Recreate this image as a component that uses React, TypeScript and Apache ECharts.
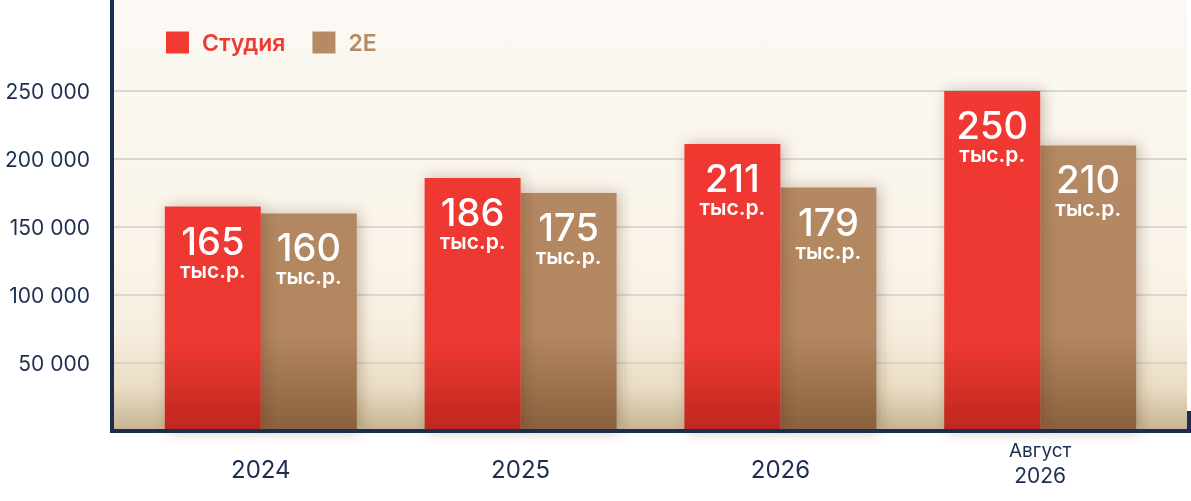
import React, { useEffect, useRef } from "react";
import * as echarts from "echarts";

const categories = ["2024", "2025", "2026", "Август 2026"];
const studioValues = [165000, 186000, 211000, 250000];
const twoEValues = [160000, 175000, 179000, 210000];
const seriesNames = ["Студия", "2Е"];
const yTicks = { min: 0, max: 300000, interval: 50000 };

const NAVY = "#1c2d50";
const FONT = "Inter, Roboto, sans-serif";

export default function App() {
  const ref = useRef<HTMLDivElement>(null);
  useEffect(() => {
    if (!ref.current) return;
    const chart = echarts.init(ref.current, undefined, { renderer: "svg" });
    const plotTop = 23;
    const plotHeight = 408;
    const redGrad = {
      type: "linear", x: 0, y: 0, x2: 0, y2: 431, global: true,
      colorStops: [
        { offset: 0, color: "#f23a33" },
        { offset: 0.8, color: "#ec3831" },
        { offset: 1, color: "#be271f" },
      ],
    };
    const brownGrad = {
      type: "linear", x: 0, y: 0, x2: 0, y2: 431, global: true,
      colorStops: [
        { offset: 0, color: "#b68a63" },
        { offset: 0.78, color: "#b28661" },
        { offset: 1, color: "#8a603c" },
      ],
    };
    const barLabel = {
      show: true,
      position: "insideTop",
      distance: 15,
      formatter: (p: any) => `{a|${Math.round(p.value / 1000)}}\n{b|тыс.р.}`,
      rich: {
        a: { fontFamily: FONT, fontSize: 38, fontWeight: 500, lineHeight: 38, color: "#fff", align: "center" },
        b: { fontFamily: FONT, fontSize: 21, fontWeight: 600, lineHeight: 21, color: "#fff", align: "center" },
      },
    };
    const option: any = {
      animation: false,
      textStyle: { fontFamily: FONT },
      graphic: [
        {
          type: "rect",
          z: -100,
          shape: { x: 114, y: 0, width: 1073, height: 431 },
          style: {
            fill: {
              type: "linear", x: 0, y: 0, x2: 0, y2: 1,
              colorStops: [
                { offset: 0, color: "#fbf9f4" },
                { offset: 0.6, color: "#faf4e9" },
                { offset: 0.78, color: "#f6eddd" },
                { offset: 0.9, color: "#e9dcc3" },
                { offset: 1, color: "#c6b390" },
              ],
            },
          },
        },
        { type: "line", z: 100, shape: { x1: 112, y1: 0, x2: 112, y2: 433 }, style: { stroke: NAVY, lineWidth: 4 } },
        { type: "line", z: 100, shape: { x1: 110, y1: 431, x2: 1191, y2: 431 }, style: { stroke: NAVY, lineWidth: 4 } },
        { type: "line", z: 100, shape: { x1: 1189, y1: 411, x2: 1189, y2: 433 }, style: { stroke: NAVY, lineWidth: 4 } },
      ],
      legend: {
        left: 161,
        top: 26,
        icon: "rect",
        itemWidth: 23,
        itemHeight: 22,
        itemGap: 27,
        textStyle: { fontFamily: FONT, fontSize: 23, fontWeight: 600, padding: [0, 0, 0, 8] },
        data: [
          { name: seriesNames[0], itemStyle: { color: "#f23a33", shadowBlur: 0 }, textStyle: { color: "#ee3a34" } },
          { name: seriesNames[1], itemStyle: { color: "#b68a63", shadowBlur: 0 }, textStyle: { color: "#b68a63" } },
        ],
      },
      grid: [
        { left: 130.9, right: 20.9, top: plotTop, height: plotHeight },
        { left: 114, right: 4, top: plotTop, height: plotHeight },
      ],
      xAxis: [
        {
          type: "category",
          gridIndex: 0,
          data: categories,
          axisLine: { show: false },
          axisTick: { show: false },
          axisLabel: {
            margin: 9,
            interval: 0,
            color: NAVY,
            formatter: (v: string) => {
              if (v.indexOf(" ") >= 0) {
                const [m, y] = v.split(" ");
                return `{m|${m}}\n{ly|${y}}`;
              }
              return `{y|${v}}`;
            },
            rich: {
              y: { fontFamily: FONT, fontSize: 24, lineHeight: 58, color: NAVY },
              m: { fontFamily: FONT, fontSize: 19, lineHeight: 20, color: NAVY },
              ly: { fontFamily: FONT, fontSize: 21, lineHeight: 30, color: NAVY },
            },
          },
        },
        { type: "value", gridIndex: 1, show: false, min: 0, max: 1 },
      ],
      yAxis: [
        { type: "value", gridIndex: 0, show: false, ...yTicks },
        {
          type: "value",
          gridIndex: 1,
          ...yTicks,
          axisLine: { show: false },
          axisTick: { show: false },
          axisLabel: {
            margin: 24,
            showMinLabel: false,
            showMaxLabel: false,
            color: NAVY,
            fontFamily: FONT,
            fontSize: 21,
            formatter: (v: number) => String(v).replace(/\B(?=(\d{3})+(?!\d))/g, " "),
          },
          splitLine: {
            show: true,
            showMinLine: false,
            showMaxLine: false,
            lineStyle: { color: "#d1cec8", width: 1.5 },
          },
        },
      ],
      series: [
        {
          name: seriesNames[0],
          type: "bar",
          xAxisIndex: 0,
          yAxisIndex: 0,
          data: studioValues,
          barWidth: 96,
          barGap: "0%",
          z: 3,
          itemStyle: { color: redGrad, shadowBlur: 14, shadowColor: "rgba(70,45,20,0.3)", shadowOffsetX: 3 },
          label: barLabel,
        },
        {
          name: seriesNames[1],
          type: "bar",
          xAxisIndex: 0,
          yAxisIndex: 0,
          data: twoEValues,
          barWidth: 96,
          barGap: "0%",
          z: 2,
          itemStyle: { color: brownGrad, shadowBlur: 14, shadowColor: "rgba(70,45,20,0.3)", shadowOffsetX: 3 },
          label: barLabel,
        },
      ],
    };
    chart.setOption(option);
    return () => chart.dispose();
  }, []);
  return (
    <div
      ref={ref}
      style={{ position: "fixed", left: 0, top: 0, width: 1191, height: 501 }}
    />
  );
}
